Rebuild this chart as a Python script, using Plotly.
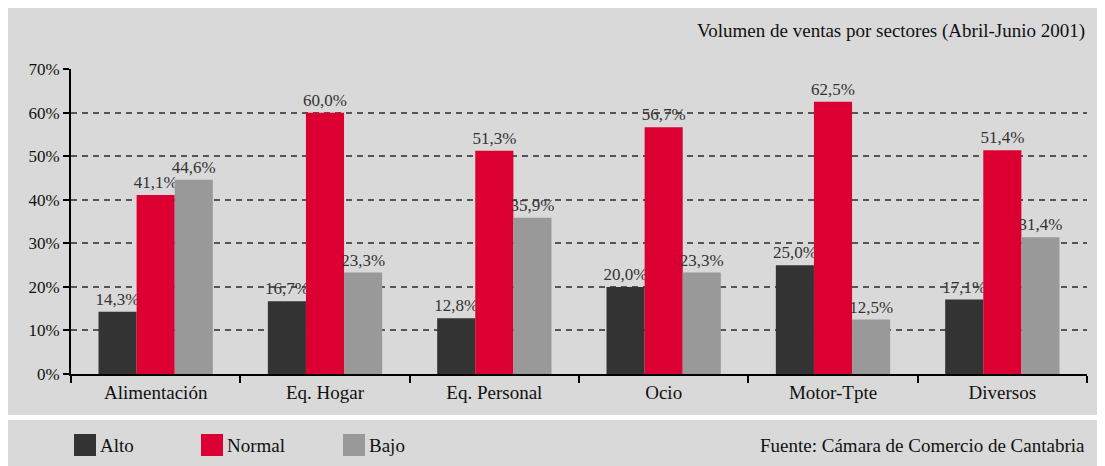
import plotly.graph_objects as go

categories = ["Alimentación", "Eq. Hogar", "Eq. Personal", "Ocio", "Motor-Tpte", "Diversos"]
alto = [14.3, 16.7, 12.8, 20.0, 25.0, 17.1]
normal = [41.1, 60.0, 51.3, 56.7, 62.5, 51.4]
bajo = [44.6, 23.3, 35.9, 23.3, 12.5, 31.4]
y_ticks = [0, 10, 20, 30, 40, 50, 60, 70]
y_labels = ["0%", "10%", "20%", "30%", "40%", "50%", "60%", "70%"]

SERIES = [("Alto", alto, "#333333"), ("Normal", normal, "#dc0032"), ("Bajo", bajo, "#999999")]
PANEL = "#d9d9d9"
FONT = "Liberation Serif"

# page has an 8px body margin, so positions are relative to the figure's own corner
W, H = 1105, 466
L, R, T, B = 63, 26, 61, 100
pw, ph = W - L - R, H - T - B

def px(x):
    return (x - L) / pw

def py(y):
    return (H - B - y) / ph

fig = go.Figure()
for name, vals, color in SERIES:
    fig.add_trace(go.Bar(
        x=categories, y=vals, name=name, marker_color=color, marker_line_width=0,
        texttemplate="%{y:.1f}%", textposition="outside", cliponaxis=False,
        constraintext="none",
        textfont=dict(family=FONT, size=17, color="#333333"),
        showlegend=False,
    ))

shapes = [
    dict(type="rect", xref="paper", yref="paper", x0=px(0), x1=px(W + 5), y0=py(407), y1=py(0),
         fillcolor=PANEL, line_width=0, layer="below"),
    dict(type="rect", xref="paper", yref="paper", x0=px(0), x1=px(W + 5), y0=py(H + 5), y1=py(412),
         fillcolor=PANEL, line_width=0, layer="below"),
]
annotations = [
    dict(text="Volumen de ventas por sectores (Abril-Junio 2001)", xref="paper", yref="paper",
         x=px(1079), y=py(23), xanchor="right", yanchor="middle", showarrow=False,
         font=dict(family=FONT, size=19, color="#111111")),
    dict(text="Fuente: Cámara de Comercio de Cantabria", xref="paper", yref="paper",
         x=px(1079), y=py(437), xanchor="right", yanchor="middle", showarrow=False,
         font=dict(family=FONT, size=19, color="#111111")),
]
# custom legend in the bottom panel
legend_x = [66, 193, 335]
for (name, _, color), lx in zip(SERIES, legend_x):
    shapes.append(dict(type="rect", xref="paper", yref="paper", x0=px(lx), x1=px(lx + 22),
                       y0=py(448), y1=py(426), fillcolor=color, line_width=0))
    annotations.append(dict(text=name, xref="paper", yref="paper", x=px(lx + 24), y=py(437),
                            xanchor="left", yanchor="middle", showarrow=False,
                            font=dict(family=FONT, size=19, color="#111111")))

fig.update_layout(
    width=W, height=H,
    margin=dict(l=L, r=R, t=T, b=B),
    paper_bgcolor="white", plot_bgcolor="rgba(0,0,0,0)",
    barmode="group", bargap=0.325, bargroupgap=0,
    separators=",.",
    font=dict(family=FONT, color="#111111"),
    shapes=shapes, annotations=annotations,
    xaxis=dict(
        tickson="boundaries", ticks="outside", ticklen=7, tickwidth=2, tickcolor="black",
        showline=True, linecolor="black", linewidth=2, showgrid=False,
        tickfont=dict(family=FONT, size=19, color="#111111"),
    ),
    yaxis=dict(
        range=[0, 70.05], tickvals=y_ticks, ticktext=y_labels,
        ticks="outside", ticklen=6, tickwidth=2, tickcolor="black",
        showline=True, linecolor="black", linewidth=2,
        showgrid=True, gridcolor="#555555", gridwidth=1.5, griddash="6px,5px",
        zeroline=False,
        tickfont=dict(family=FONT, size=17, color="#111111"),
    ),
)

fig.write_html("out.html")
